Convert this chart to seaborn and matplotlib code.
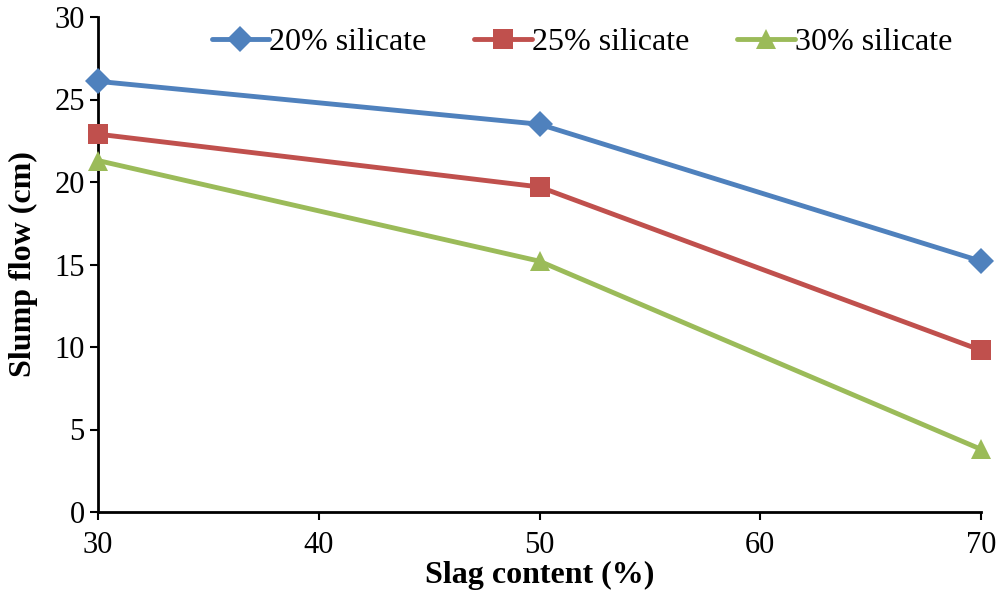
import matplotlib
matplotlib.use("Agg")
import matplotlib.pyplot as plt
import seaborn as sns
import pandas as pd

slag = [30, 50, 70]
flow_20 = [26.1, 23.5, 15.2]
flow_25 = [22.9, 19.7, 9.8]
flow_30 = [21.3, 15.2, 3.8]
series_names = ["20% silicate", "25% silicate", "30% silicate"]
colors = ["#4F81BD", "#C0504D", "#9BBB59"]
markers = ["D", "s", "^"]
marker_sizes = [13, 14, 15]

sns.set_style("ticks")
plt.rcParams["font.family"] = ["Liberation Serif", "DejaVu Serif"]
plt.rcParams["text.color"] = "black"
plt.rcParams["axes.labelcolor"] = "black"
plt.rcParams["xtick.color"] = "black"
plt.rcParams["ytick.color"] = "black"

df = pd.DataFrame({
    "slag": slag * 3,
    "flow": flow_20 + flow_25 + flow_30,
    "series": sum([[n] * len(slag) for n in series_names], []),
})

fig = plt.figure(figsize=(10, 5.99), dpi=100)
ax = fig.add_axes([0.098, 1 - 512 / 599, 0.883, (512 - 17) / 599])

for name, c, m, ms in zip(series_names, colors, markers, marker_sizes):
    sub = df[df["series"] == name]
    sns.lineplot(data=sub, x="slag", y="flow", ax=ax, color=c, linewidth=3.5,
                 marker=m, markersize=ms, markeredgewidth=0, label=name,
                 clip_on=False, zorder=3)

ax.set_xlim(30, 70)
ax.set_ylim(0, 30)
ax.set_xticks([30, 40, 50, 60, 70])
ax.set_yticks([0, 5, 10, 15, 20, 25, 30])
ax.tick_params(axis="both", labelsize=22, length=6, width=1.5, colors="black",
               direction="out")
ax.tick_params(axis="x", pad=8)
for s in ["left", "bottom"]:
    ax.spines[s].set_linewidth(2)
    ax.spines[s].set_color("black")
sns.despine(ax=ax)

ax.set_xlabel("Slag content (%)", fontsize=23, fontweight="bold", labelpad=0)
ax.set_ylabel("Slump flow (cm)", fontsize=23, fontweight="bold", labelpad=12)

ax.legend(loc="upper center", bbox_to_anchor=(0.548, 1.037), ncol=3, frameon=False,
          fontsize=23, handlelength=1.8, handletextpad=0.0, columnspacing=1.5)

fig.savefig("out.png", dpi=100)
